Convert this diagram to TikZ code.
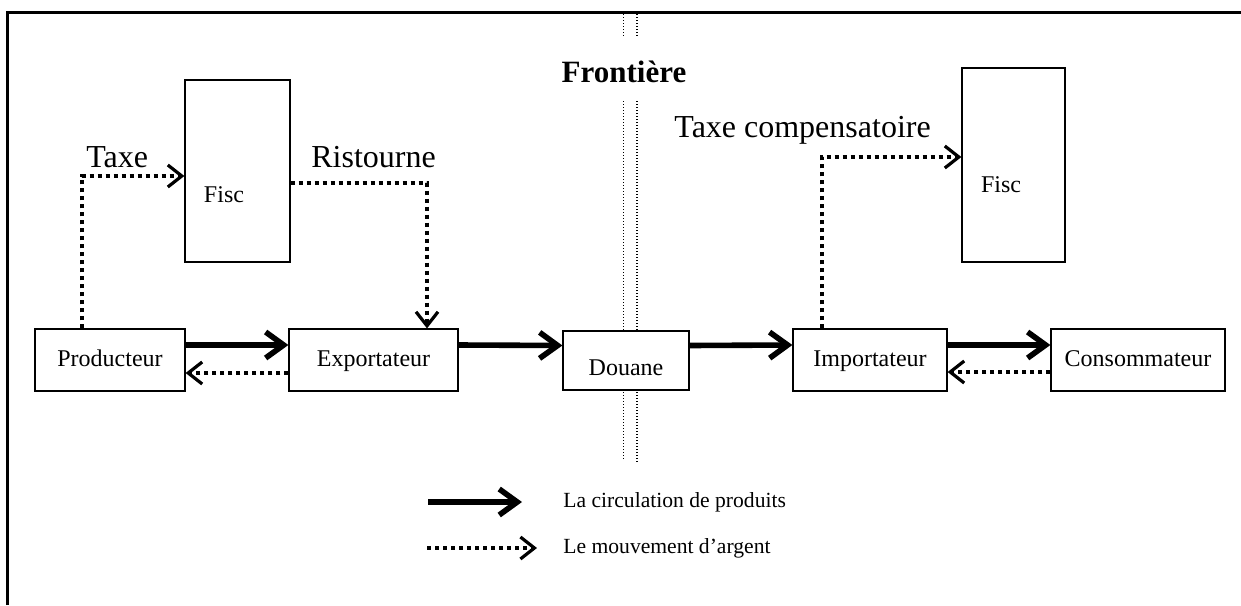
\documentclass[tikz,border=0pt]{standalone}
\usepackage{fontspec}
\setmainfont{Liberation Serif}
\usetikzlibrary{arrows.meta}
\begin{document}
\begin{tikzpicture}[x=0.5pt,y=-0.5pt,
  box/.style={draw,line width=0.6pt,fill=white,inner sep=0pt,minimum height=31pt,text height=6pt,text depth=0pt,font=\fontsize{12}{14}\selectfont},
  fisc/.style={draw,line width=0.6pt,fill=white,inner sep=0pt},
  produit/.style={line width=2.8pt,-{Straight Barb[length=9pt,width=13pt]}},
  argent/.style={line width=1.6pt,dash pattern=on 2pt off 2pt,-{Straight Barb[length=7pt,width=11pt]}},
  grenze/.style={line width=0.5pt,dash pattern=on 0.5pt off 1pt},
  gros/.style={font=\fontsize{16}{19}\selectfont},
  petit/.style={font=\fontsize{12}{14}\selectfont},
  legende/.style={font=\fontsize{10.8}{13}\selectfont,anchor=west,inner sep=0pt}]
\useasboundingbox (0,0) rectangle (1241,605);

\draw[line width=1.5pt] (7,605) -- (7,12) -- (1241,12);

\draw[grenze] (623,14) -- (623,36);
\draw[grenze,line width=0.8pt] (637,14) -- (637,36);
\draw[grenze] (623,101) -- (623,461);
\draw[grenze,line width=0.8pt] (637,101) -- (637,464);
\node[anchor=base,font=\bfseries\fontsize{15.5}{18}\selectfont] (front) at (624,82) {Frontière};

\node[box,minimum width=75pt] (prod) at (110,360) {Producteur};
\node[box,minimum width=84.5pt] (expo) at (373.5,360) {Exportateur};
\node[box,minimum width=63pt,minimum height=29.5pt,text height=14.5pt] (douane) at (626,360.5) {Douane};
\node[box,minimum width=77pt] (impo) at (870,360) {Importateur};
\node[box,minimum width=87pt] (conso) at (1138,360) {Consommateur};

\node[fisc,minimum width=52.5pt,minimum height=91pt] (fiscG) at (237.5,171) {};
\node[petit] (fiscGtxt) at (224,195) {Fisc};
\node[fisc,minimum width=51.5pt,minimum height=97pt] (fiscD) at (1013.5,165) {};
\node[petit] (fiscDtxt) at (1001,185) {Fisc};

\node[gros,anchor=base west,inner sep=0pt] (taxe) at (86,167) {Taxe};
\node[gros,anchor=base west,inner sep=0pt] (ristourne) at (311,167) {Ristourne};
\node[gros,anchor=base west,inner sep=0pt] (taxecomp) at (674,137) {Taxe compensatoire};

\draw[argent] ([xshift=-14pt]prod.north) |- ([yshift=-2.5pt]fiscG.west);
\draw[argent] ([yshift=-6pt]fiscG.east) -| ([xshift=26.75pt]expo.north);
\draw[argent] ([xshift=-24pt]impo.north) |- ([yshift=4pt]fiscD.west);

\draw[produit] ([yshift=7.5pt]prod.east) -- ([yshift=7.5pt]expo.west);
\draw[argent] ([yshift=-6.5pt]expo.west) -- ([yshift=-6.5pt]prod.east);
\draw[produit] ([yshift=7.5pt]expo.east) -- ([yshift=7.5pt]douane.west);
\draw[produit] ([yshift=7.5pt]douane.east) -- ([yshift=7.5pt]impo.west);
\draw[produit] ([yshift=7.5pt]impo.east) -- ([yshift=7.5pt]conso.west);
\draw[argent] ([yshift=-6pt]conso.west) -- ([yshift=-6pt]impo.east);

\node[legende] (legProd) at (563,502) {La circulation de produits};
\node[legende] (legArg) at (563,548) {Le mouvement d’argent};
\draw[produit] ([xshift=-67.5pt]legProd.west) -- ([xshift=-20.5pt]legProd.west);
\draw[argent] ([xshift=-68pt]legArg.west) -- ([xshift=-13pt]legArg.west);

\end{tikzpicture}
\end{document}
